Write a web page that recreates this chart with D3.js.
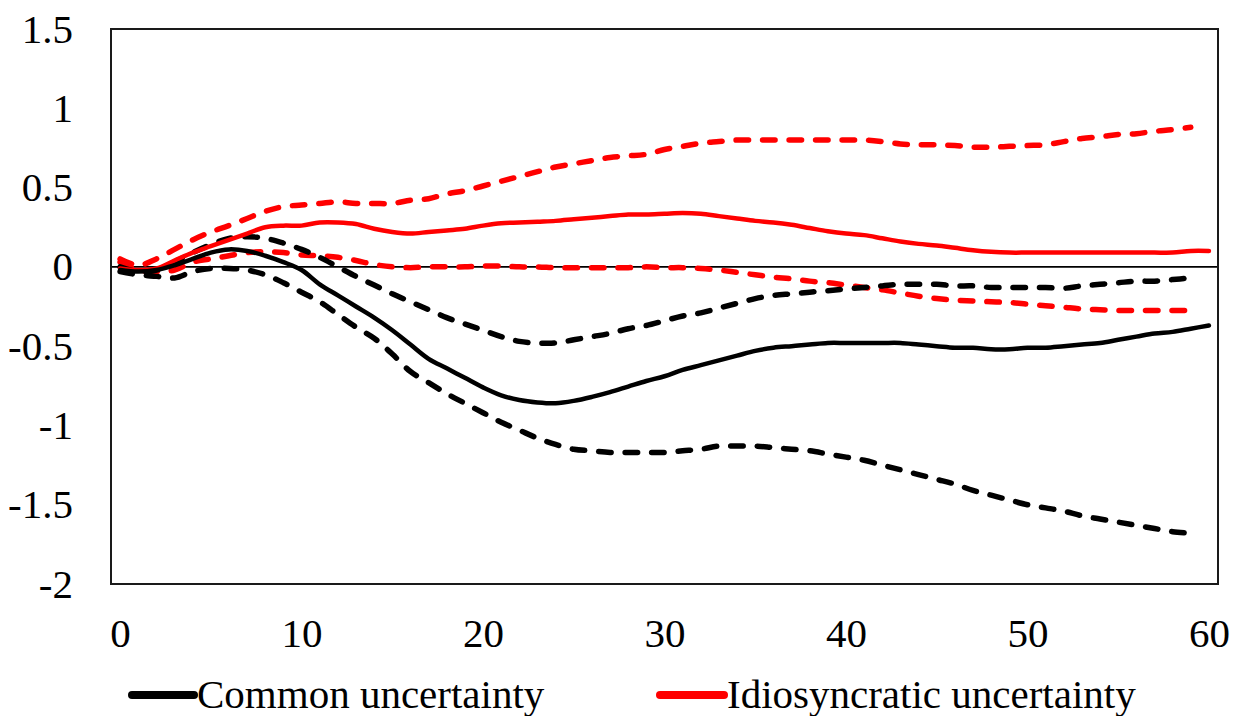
<!DOCTYPE html>
<html>
<head>
<meta charset="utf-8">
<script src="https://cdn.jsdelivr.net/npm/d3@7"></script>
<style>
  html, body { margin: 0; padding: 0; background: #fff; }
  svg { display: block; }
  text { font-family: "Liberation Serif", "Times New Roman", serif; fill: #000; }
</style>
</head>
<body>
<svg id="chart" width="1236" height="716"></svg>
<script>
// ---------- data ----------
const horizons = d3.range(0, 61);           // months 0..60
const xTickLabels = [0, 10, 20, 30, 40, 50, 60];
const yTickLabels = [1.5, 1, 0.5, 0, -0.5, -1, -1.5, -2];
const seriesNames = ["Common uncertainty", "Idiosyncratic uncertainty"];

const commonMid = [-0.02,-0.03,-0.02,0.01,0.05,0.09,0.11,0.10,0.07,0.03,
  -0.02,-0.11,-0.18,-0.25,-0.32,-0.40,-0.49,-0.58,-0.64,-0.70,
  -0.76,-0.81,-0.84,-0.855,-0.86,-0.845,-0.82,-0.79,-0.755,-0.72,
  -0.69,-0.65,-0.62,-0.59,-0.56,-0.53,-0.51,-0.50,-0.49,-0.48,
  -0.48,-0.48,-0.48,-0.48,-0.49,-0.50,-0.51,-0.51,-0.52,-0.52,
  -0.51,-0.51,-0.50,-0.49,-0.48,-0.46,-0.44,-0.42,-0.41,-0.39,-0.37];
const commonUpper = [0.00,-0.03,-0.02,0.03,0.09,0.14,0.18,0.19,0.18,0.15,
  0.11,0.06,0.00,-0.06,-0.115,-0.17,-0.22,-0.27,-0.32,-0.36,
  -0.40,-0.44,-0.47,-0.48,-0.48,-0.46,-0.44,-0.42,-0.39,-0.37,
  -0.34,-0.31,-0.29,-0.26,-0.23,-0.20,-0.18,-0.17,-0.16,-0.15,
  -0.14,-0.13,-0.12,-0.11,-0.11,-0.11,-0.12,-0.12,-0.13,-0.13,
  -0.13,-0.13,-0.135,-0.12,-0.11,-0.10,-0.09,-0.09,-0.08,-0.07];
const commonLower = [-0.03,-0.05,-0.06,-0.07,-0.03,-0.01,-0.01,-0.02,-0.05,-0.10,
  -0.16,-0.22,-0.30,-0.38,-0.45,-0.55,-0.66,-0.73,-0.80,-0.86,
  -0.92,-0.98,-1.03,-1.08,-1.12,-1.15,-1.16,-1.17,-1.17,-1.17,
  -1.17,-1.16,-1.15,-1.13,-1.13,-1.13,-1.14,-1.15,-1.16,-1.18,
  -1.20,-1.22,-1.25,-1.28,-1.31,-1.34,-1.37,-1.41,-1.44,-1.47,
  -1.50,-1.52,-1.54,-1.57,-1.59,-1.61,-1.63,-1.65,-1.67,-1.68];

const idioMid = [-0.01,-0.02,-0.01,0.04,0.09,0.13,0.17,0.21,0.25,0.26,
  0.26,0.28,0.28,0.27,0.24,0.22,0.21,0.22,0.23,0.24,
  0.26,0.275,0.28,0.285,0.29,0.30,0.31,0.32,0.33,0.33,
  0.335,0.34,0.335,0.32,0.305,0.29,0.28,0.265,0.245,0.225,
  0.21,0.20,0.18,0.16,0.145,0.135,0.12,0.105,0.095,0.09,
  0.09,0.09,0.09,0.09,0.09,0.09,0.09,0.09,0.09,0.10,0.10];
const idioUpper = [0.05,0.01,0.05,0.11,0.17,0.22,0.26,0.305,0.35,0.38,
  0.39,0.40,0.41,0.40,0.40,0.40,0.42,0.43,0.46,0.48,
  0.51,0.54,0.57,0.60,0.63,0.65,0.67,0.69,0.70,0.71,
  0.74,0.76,0.78,0.79,0.80,0.80,0.80,0.80,0.80,0.80,
  0.80,0.80,0.79,0.775,0.77,0.77,0.765,0.755,0.755,0.76,
  0.765,0.77,0.79,0.81,0.82,0.835,0.84,0.855,0.865,0.88];
const idioLower = [0.03,-0.02,-0.03,-0.02,0.03,0.05,0.07,0.09,0.095,0.09,
  0.075,0.07,0.06,0.04,0.015,0.00,-0.005,0.00,0.00,0.00,
  0.005,0.005,0.00,0.00,-0.005,-0.005,-0.005,-0.005,-0.005,0.00,
  -0.005,-0.005,-0.01,-0.02,-0.035,-0.05,-0.065,-0.075,-0.09,-0.10,
  -0.115,-0.13,-0.145,-0.165,-0.185,-0.20,-0.21,-0.215,-0.22,-0.225,
  -0.235,-0.245,-0.255,-0.265,-0.27,-0.275,-0.275,-0.275,-0.275,-0.275];

// ---------- layout ----------
const svg = d3.select("#chart");
const plot = { left: 111, right: 1218, top: 29, bottom: 584 };

const x = d3.scaleLinear().domain([-0.5, 60.5]).range([plot.left, plot.right]);
const y = d3.scaleLinear().domain([-2, 1.5]).range([plot.bottom, plot.top]);

const line = d3.line()
  .x((d, i) => x(horizons[i]))
  .y(d => y(d))
  .curve(d3.curveCatmullRom.alpha(0.5));

// zero line
svg.append("line")
  .attr("x1", plot.left).attr("x2", plot.right)
  .attr("y1", y(0)).attr("y2", y(0))
  .attr("stroke", "#000").attr("stroke-width", 1.6);

const series = [
  { v: idioLower, color: "#ff0000", dash: true },
  { v: idioUpper, color: "#ff0000", dash: true },
  { v: commonUpper, color: "#000000", dash: true },
  { v: commonLower, color: "#000000", dash: true },
  { v: idioMid, color: "#ff0000", dash: false },
  { v: commonMid, color: "#000000", dash: false }
];

svg.append("g").selectAll("path")
  .data(series)
  .join("path")
  .attr("d", d => line(d.v))
  .attr("fill", "none")
  .attr("stroke", d => d.color)
  .attr("stroke-width", d => d.dash ? 5.5 : 4.5)
  .attr("stroke-linecap", "round")
  .attr("stroke-linejoin", "round")
  .attr("stroke-dasharray", d => d.dash ? "12.5 14" : null);

// frame
svg.append("rect")
  .attr("x", plot.left).attr("y", plot.top)
  .attr("width", plot.right - plot.left).attr("height", plot.bottom - plot.top)
  .attr("fill", "none").attr("stroke", "#1a1a1a").attr("stroke-width", 2);

// axes
const yAxis = d3.axisLeft(y).tickValues(yTickLabels).tickSize(0).tickPadding(38)
  .tickFormat(d => String(d));
const gy = svg.append("g").attr("transform", `translate(${plot.left},0)`).call(yAxis);
gy.select(".domain").remove();
gy.selectAll("text").style("font-size", "41px").style("font-family", "Liberation Serif").attr("fill", "#000");

const xAxis = d3.axisBottom(x).tickValues(xTickLabels).tickSize(0).tickPadding(34)
  .tickFormat(d => String(d));
const gx = svg.append("g").attr("transform", `translate(0,${plot.bottom})`).call(xAxis);
gx.select(".domain").remove();
gx.selectAll("text").style("font-size", "41px").style("font-family", "Liberation Serif").attr("fill", "#000");

// legend
const legend = [
  { name: seriesNames[0], color: "#000000", x1: 132, x2: 194, tx: 197 },
  { name: seriesNames[1], color: "#ff0000", x1: 660, x2: 724, tx: 727 }
];
const lg = svg.append("g");
legend.forEach(l => {
  lg.append("line")
    .attr("x1", l.x1).attr("x2", l.x2).attr("y1", 695).attr("y2", 695)
    .attr("stroke", l.color).attr("stroke-width", 8).attr("stroke-linecap", "round");
  lg.append("text")
    .attr("x", l.tx).attr("y", 708)
    .style("font-size", "41px")
    .text(l.name);
});
</script>
</body>
</html>
